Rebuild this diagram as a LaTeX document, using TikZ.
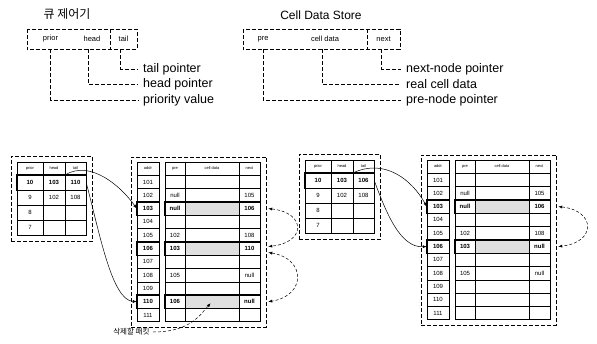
\documentclass[tikz,border=0pt]{standalone}
\usepackage{fontspec}
\setmainfont{Liberation Sans}
\newfontfamily\kor{Noto Sans CJK KR}
\usetikzlibrary{arrows.meta,fit}
\tikzset{
  frame/.style  = {draw, dash pattern=on 4pt off 2pt, line width=0.5pt},
  field/.style  = {minimum height=20pt, inner sep=0, font=\fontsize{7.5}{9}\selectfont},
  lbl/.style    = {anchor=west, inner sep=0, font=\fontsize{12.5}{14}\selectfont},
  lead/.style   = {dash pattern=on 4pt off 2pt, line width=0.5pt},
  cell/.style   = {draw, line width=0.4pt, minimum height=13.3pt, inner sep=0, font=\fontsize{6}{7}\selectfont},
  hd/.style     = {cell, minimum height=13pt, font=\fontsize{4}{5}\selectfont},
  row0/.style   = {},
  row1/.style   = {font=\fontsize{6}{7}\selectfont\bfseries},
  shade0/.style = {},
  shade1/.style = {fill=gray!25},
  hot/.style    = {line width=1.1pt},
  ptr/.style    = {-{Latex[length=4pt,width=3pt]}, line width=0.5pt},
  link/.style   = {{Latex[length=4pt,width=3pt]}-{Latex[length=4pt,width=3pt]}, dash pattern=on 3pt off 2pt, line width=0.5pt}
}
\begin{document}
\begin{tikzpicture}[x=1pt,y=-1pt]
  \useasboundingbox (0,0) rectangle (597,343);

  % record layouts
  \node[font=\kor\fontsize{12}{14}\selectfont] (qtitle) at (67,14) {큐 제어기};
  \node[font=\fontsize{12}{14}\selectfont] (stitle) at (321,15) {Cell Data Store};

  \node[field, minimum width=47pt] (qprior) at (50.5,39) {prior};
  \node[field, minimum width=36pt] (qhead)  at (92,39)   {head};
  \node[field, minimum width=27pt] (qtail)  at (123.5,39) {tail};
  \draw[frame] (qprior.north west) rectangle (qtail.south east);
  \draw[frame] (qhead.north east) -- (qhead.south east);
  \node[lbl] (ltail)  at (143,69)  {tail pointer};
  \node[lbl] (lhead)  at (143,84)  {head pointer};
  \node[lbl] (lprior) at (143,100) {priority value};
  \draw[lead, shorten >=5pt] ([xshift=-3pt]qtail.south) |- (ltail.west);
  \draw[lead, shorten >=5pt] ([xshift=-4pt]qhead.south) |- (lhead.west);
  \draw[lead, shorten >=5pt] (qprior.south) |- (lprior.west);

  \node[field, minimum width=40pt] (spre)  at (263,39)   {pre};
  \node[field, minimum width=84pt] (sdata) at (325,39)   {cell data};
  \node[field, minimum width=33pt] (snext) at (383.5,39) {next};
  \draw[frame] (spre.north west) rectangle (snext.south east);
  \draw[frame] (sdata.north east) -- (sdata.south east);
  \node[lbl] (lnext) at (406,69)  {next-node pointer};
  \node[lbl] (ldata) at (406,84)  {real cell data};
  \node[lbl] (lpre)  at (406,100) {pre-node pointer};
  \draw[lead, shorten >=5pt] ([xshift=-2pt]snext.south) |- (lnext.west);
  \draw[lead, shorten >=5pt] ([xshift=-3pt]sdata.south) |- (ldata.west);
  \draw[lead, shorten >=5pt] (spre.south) |- (lpre.west);

  % before deletion
  \foreach \col/\x/\w/\t in {p/30/26pt/prior, h/54/22pt/head, t/75.5/21pt/tail}
    \node[hd, minimum width=\w] (qa-\col) at (\x,168.5) {\t};
  \foreach \r/\v/\hv/\tv/\f in {1/10/103/110/1, 2/9/102/108/0, 3/8/{}/{}/0, 4/7/{}/{}/0} {
    \node[cell, row\f, minimum width=26pt, minimum height=15pt] (qa-\r-p) at (30,167.5+15*\r)   {\v};
    \node[cell, row\f, minimum width=22pt, minimum height=15pt] (qa-\r-h) at (54,167.5+15*\r)   {\hv};
    \node[cell, row\f, minimum width=21pt, minimum height=15pt] (qa-\r-t) at (75.5,167.5+15*\r) {\tv};
  }
  \draw[hot] (qa-1-p.north west) rectangle (qa-1-t.south east);
  \node[frame, fit=(qa-p)(qa-4-t), inner sep=6pt] (qa-box) {};

  \foreach \col/\x/\w/\t in {a/148/22pt/addr, p/175/20pt/pre, d/212/54pt/cell data, n/249.5/21pt/next}
    \node[hd, minimum width=\w] (sa-\col) at (\x,168.5) {\t};
  \foreach \ad/\pr/\nx/\f [count=\k from 0] in {101/{}/{}/0, 102/null/105/0, 103/null/106/1, 104/{}/{}/0,
      105/102/108/0, 106/103/110/1, 107/{}/{}/0, 108/105/null/0, 109/{}/{}/0, 110/106/null/1, 111/{}/{}/0} {
    \node[cell, row\f, minimum width=22pt] (sa-\ad-a) at (148,182+13.3*\k)   {\ad};
    \node[cell, row\f, minimum width=20pt] (sa-\ad-p) at (175,182+13.3*\k)   {\pr};
    \node[cell, shade\f, minimum width=54pt] (sa-\ad-d) at (212,182+13.3*\k) {};
    \node[cell, row\f, minimum width=21pt] (sa-\ad-n) at (249.5,182+13.3*\k) {\nx};
  }
  \foreach \ad in {103,106,110} {
    \draw[hot] (sa-\ad-a.north west) rectangle (sa-\ad-a.south east);
    \draw[hot] (sa-\ad-p.north west) rectangle (sa-\ad-n.south east);
  }
  \node[frame, fit=(sa-a)(sa-111-n), inner xsep=6pt, inner ysep=5pt] (sa-box) {};

  % after deletion
  \begin{scope}[shift={(288,-2)}]
    \foreach \col/\x/\w/\t in {p/30/26pt/prior, h/54/22pt/head, t/75.5/21pt/tail}
      \node[hd, minimum width=\w] (qb-\col) at (\x,168.5) {\t};
    \foreach \r/\v/\hv/\tv/\f in {1/10/103/106/1, 2/9/102/108/0, 3/8/{}/{}/0, 4/7/{}/{}/0} {
      \node[cell, row\f, minimum width=26pt, minimum height=15pt] (qb-\r-p) at (30,167.5+15*\r)   {\v};
      \node[cell, row\f, minimum width=22pt, minimum height=15pt] (qb-\r-h) at (54,167.5+15*\r)   {\hv};
      \node[cell, row\f, minimum width=21pt, minimum height=15pt] (qb-\r-t) at (75.5,167.5+15*\r) {\tv};
    }
    \draw[hot] (qb-1-p.north west) rectangle (qb-1-t.south east);
    \node[frame, fit=(qb-p)(qb-4-t), inner sep=6pt] (qb-box) {};
  \end{scope}

  \begin{scope}[shift={(290,-2)}]
    \foreach \col/\x/\w/\t in {a/148/22pt/addr, p/175/20pt/pre, d/212/54pt/cell data, n/249.5/21pt/next}
      \node[hd, minimum width=\w] (sb-\col) at (\x,168.5) {\t};
    \foreach \ad/\pr/\nx/\f [count=\k from 0] in {101/{}/{}/0, 102/null/105/0, 103/null/106/1, 104/{}/{}/0,
        105/102/108/0, 106/103/null/1, 107/{}/{}/0, 108/105/null/0, 109/{}/{}/0, 110/{}/{}/0, 111/{}/{}/0} {
      \node[cell, row\f, minimum width=22pt] (sb-\ad-a) at (148,182+13.3*\k)   {\ad};
      \node[cell, row\f, minimum width=20pt] (sb-\ad-p) at (175,182+13.3*\k)   {\pr};
      \node[cell, shade\f, minimum width=54pt] (sb-\ad-d) at (212,182+13.3*\k) {};
      \node[cell, row\f, minimum width=21pt] (sb-\ad-n) at (249.5,182+13.3*\k) {\nx};
    }
    \foreach \ad in {103,106} {
      \draw[hot] (sb-\ad-a.north west) rectangle (sb-\ad-a.south east);
      \draw[hot] (sb-\ad-p.north west) rectangle (sb-\ad-n.south east);
    }
    \node[frame, fit=(sb-a)(sb-111-n), inner xsep=6pt, inner ysep=5pt] (sb-box) {};
  \end{scope}

  % pointers
  \draw[ptr] (qa-1-h.north east) .. controls (90,160) and (120,185) .. (sa-103-a.west);
  \draw[ptr] (qa-1-t.east) .. controls (100,235) and (112,300) .. (sa-110-a.west);
  \draw[link] ([xshift=8pt]sa-103-n.east) .. controls +(38,4) and +(38,-4) .. ([xshift=8pt,yshift=2pt]sa-106-n.east);
  \draw[link] ([xshift=8pt,yshift=-4pt]sa-106-n.east) .. controls +(38,6) and +(38,-6) .. ([xshift=8pt]sa-110-n.east);

  \draw[ptr] (qb-1-h.north east) .. controls (385,158) and (412,180) .. (sb-103-a.west);
  \draw[ptr] (qb-1-t.east) .. controls (386,212) and (400,248) .. (sb-106-a.west);
  \draw[link] ([xshift=8pt]sb-103-n.east) .. controls +(38,4) and +(38,-4) .. ([xshift=8pt]sb-106-n.east);

  \node[font=\kor\fontsize{7.5}{9}\selectfont, anchor=east] (del) at (153,332) {삭제할 패킷};
  \draw[ptr, dash pattern=on 3pt off 2pt, shorten >=2pt] (del.east) .. controls (190,332) and (200,315) .. (sa-110-d.center);
\end{tikzpicture}
\end{document}
